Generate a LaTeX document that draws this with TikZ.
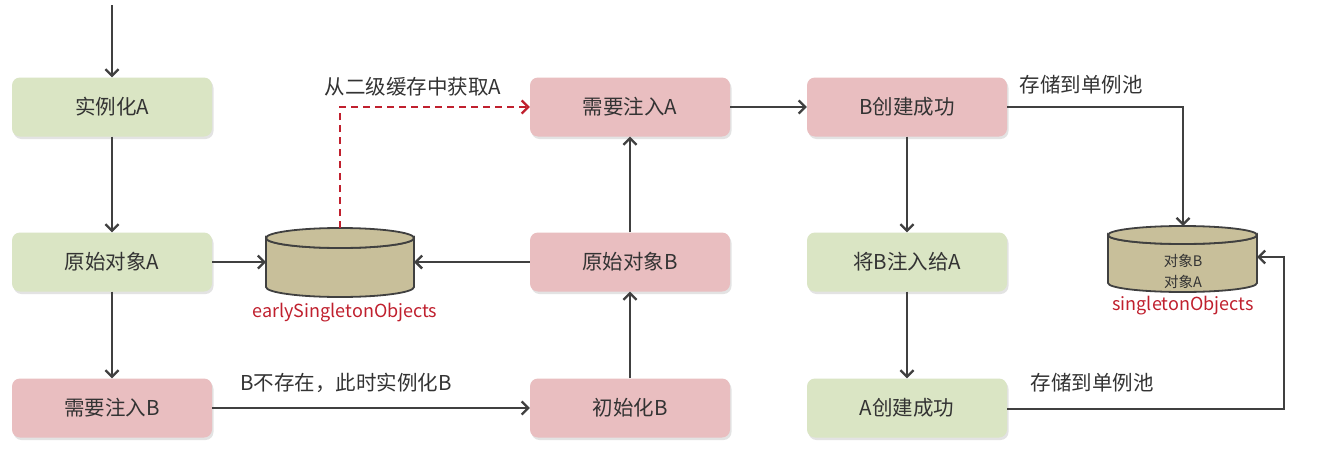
\documentclass[tikz,border=0pt]{standalone}
\usepackage{fontspec}
\setmainfont{Noto Sans CJK SC}
\usetikzlibrary{arrows.meta,shadows}
\definecolor{boxgreen}{HTML}{DAE5C4}
\definecolor{boxpink}{HTML}{E9BEC0}
\definecolor{cylfill}{HTML}{C8BF9A}
\definecolor{linegray}{HTML}{404040}
\definecolor{txtgray}{HTML}{333333}
\definecolor{darkred}{HTML}{C0202E}
\tikzset{
  stepbox/.style={rectangle, rounded corners=8pt, minimum width=200pt, minimum height=59pt, inner sep=0pt,
    text=txtgray, font=\fontsize{20.5}{24}\selectfont,
    drop shadow={opacity=0.22, shadow xshift=1.5pt, shadow yshift=-2.5pt}},
  greenbox/.style={stepbox, fill=boxgreen},
  pinkbox/.style={stepbox, fill=boxpink},
  conn/.style={draw=linegray, line width=2.3pt, -{Straight Barb[length=6.5pt,width=13pt,line width=2.3pt]}},
  redconn/.style={draw=darkred, line width=2.3pt, dash pattern=on 7pt off 5pt, -{Straight Barb[length=6.5pt,width=13pt,line width=2.3pt]}},
  lbl/.style={text=txtgray, font=\fontsize{20.5}{24}\selectfont, inner sep=0pt},
  redlbl/.style={text=darkred, font=\fontsize{18}{22}\selectfont, inner sep=0pt},
  cyl/.style={draw=linegray, line width=1.8pt, fill=cylfill},
}
\begin{document}
\begin{tikzpicture}[x=1pt,y=-1pt]
\useasboundingbox (0,0) rectangle (1320,453);
\fill[white] (0,0) rectangle (1320,453);

% boxes
\node[greenbox] (n1) at (112,107) {实例化A};
\node[greenbox] (n2) at (112,262) {原始对象A};
\node[pinkbox]  (n3) at (112,408) {需要注入B};
\node[pinkbox]  (n4) at (630,107) {需要注入A};
\node[pinkbox]  (n5) at (630,262) {原始对象B};
\node[pinkbox]  (n6) at (630,408) {初始化B};
\node[pinkbox]  (n7) at (907,107) {B创建成功};
\node[greenbox] (n8) at (907,262) {将B注入给A};
\node[greenbox] (n9) at (907,408) {A创建成功};

% cylinder 1 (earlySingletonObjects)
\path[cyl] (266,238) -- (266,287) arc[start angle=180, end angle=360, x radius=74pt, y radius=10pt] -- (414,238) arc[start angle=0, end angle=180, x radius=74pt, y radius=-10pt] -- cycle;
\path[cyl] (340,238) ellipse[x radius=74pt, y radius=10pt];
\coordinate (c1top) at (340,228);
\coordinate (c1left) at (266,262);
\coordinate (c1right) at (414,262);
\node[redlbl] (c1lbl) at (345,313) {earlySingletonObjects};

% cylinder 2 (singletonObjects)
\path[cyl] (1108,235) -- (1108,283) arc[start angle=180, end angle=360, x radius=74.5pt, y radius=9pt] -- (1257,235) arc[start angle=0, end angle=180, x radius=74.5pt, y radius=-9pt] -- cycle;
\path[cyl] (1182.5,235) ellipse[x radius=74.5pt, y radius=9pt];
\coordinate (c2top) at (1183,226);
\coordinate (c2right) at (1257,257);
\node[text=txtgray, font=\fontsize{14.5}{16}\selectfont, inner sep=0pt] (objb) at (1183,261) {对象B};
\node[text=txtgray, font=\fontsize{14.5}{16}\selectfont, inner sep=0pt] (obja) at (1183,282) {对象A};
\node[redlbl] (c2lbl) at (1183,306) {singletonObjects};

% connectors
\coordinate (start) at (112,5);
\draw[conn] (start) -- (n1);
\draw[conn] (n1) -- (n2);
\draw[conn] (n2) -- (n3);
\draw[conn] (n2.east) -- (c1left);
\draw[conn] (n5.west) -- (c1right);
\draw[redconn] (c1top) |- (n4.west);
\draw[conn] (n3.east) -- (n6.west);
\draw[conn] (n6) -- (n5);
\draw[conn] (n5) -- (n4);
\draw[conn] (n4.east) -- (n7.west);
\draw[conn] (n7) -- (n8);
\draw[conn] (n8) -- (n9);
\draw[conn] (n7.east) -| (c2top);
\coordinate (corner) at (1284,409);
\draw[conn] ([yshift=-1pt]n9.east) -- (corner) |- (c2right);

% labels
\node[lbl] (l1) at (413,87) {从二级缓存中获取A};
\node[lbl] (l2) at (346,383) {B不存在，此时实例化B};
\node[lbl] (l3) at (1081,85) {存储到单例池};
\node[lbl] (l4) at (1092,383) {存储到单例池};
\end{tikzpicture}
\end{document}
